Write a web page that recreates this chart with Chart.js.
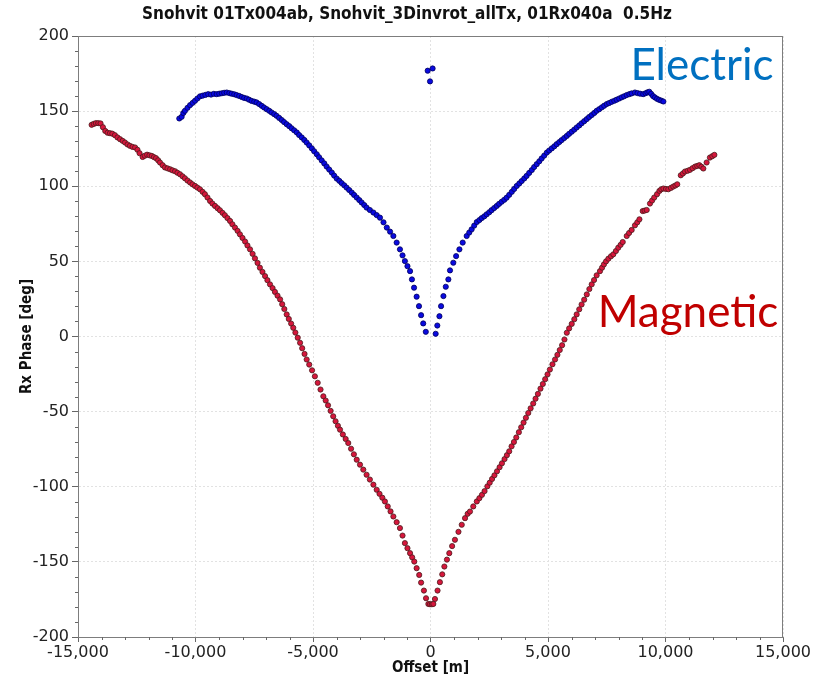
<!DOCTYPE html>
<html>
<head>
<meta charset="utf-8">
<script src="https://cdn.jsdelivr.net/npm/chart.js@4.4.1/dist/chart.umd.min.js"></script>
<style>
  html, body { margin: 0; padding: 0; background: #fff; }
  #wrap { width: 814px; height: 681px; }
</style>
</head>
<body>
<div id="wrap"><canvas id="graph" width="814" height="681"></canvas></div>
<script>
"use strict";

const chart_title = "Snohvit 01Tx004ab, Snohvit_3Dinvrot_allTx, 01Rx040a  0.5Hz";
const x_title = "Offset [m]";
const y_title = "Rx Phase [deg]";
const series_names = ["Electric", "Magnetic"];

// Electric (blue) - offset in m, phase in deg
const electric_offset = [
  -10690, -10590, -10520, -10450, -10340, -10230, -10120, -10020, -9920, -9810,
  -9700, -9580, -9460, -9340, -9220, -9100, -8990, -8880, -8780, -8670,
  -8560, -8460, -8350, -8250, -8140, -8030, -7930, -7820, -7720, -7610,
  -7500, -7400, -7290, -7180, -7080, -6970, -6860, -6760, -6650, -6550,
  -6440, -6330, -6230, -6120, -6010, -5910, -5800, -5690, -5590, -5480,
  -5370, -5270, -5160, -5050, -4950, -4840, -4740, -4630, -4520, -4420,
  -4310, -4200, -4100, -3990, -3880, -3780, -3670, -3570, -3460, -3350,
  -3250, -3140, -3030, -2930, -2820, -2720, -2580, -2430, -2290, -2150,
  -2000, -1860, -1720, -1580, -1440, -1300, -1190, -1090, -980, -870,
  -790, -700, -590, -490, -400, -310, -200,
  -120, -20, 90,
  220, 290, 380, 450, 550, 650, 760, 830, 970, 1090,
  1230, 1370, 1540, 1650, 1750, 1860, 1970, 2080, 2180, 2290,
  2390, 2500, 2600, 2710, 2820, 2920, 3030, 3140, 3240, 3350,
  3460, 3560, 3670, 3780, 3880, 3990, 4090, 4200, 4310, 4410,
  4520, 4630, 4730, 4840, 4950, 5050, 5160, 5270, 5370, 5480,
  5580, 5690, 5800, 5900, 6010, 6120, 6220, 6330, 6430, 6540,
  6650, 6750, 6860, 6970, 7070, 7180, 7290, 7390, 7500, 7600,
  7710, 7820, 7920, 8030, 8140, 8240, 8350, 8460, 8560, 8700,
  8810, 8920, 9050, 9150, 9230, 9310, 9390, 9470, 9550, 9640,
  9730, 9820, 9910
];
const electric_phase = [
  145.1, 146.2, 148.7, 150.2, 152.2, 154.0, 155.5, 156.9, 158.4, 159.8,
  160.3, 160.8, 161.3, 161.0, 161.5, 161.3, 161.6, 161.9, 162.2, 162.4,
  162.0, 161.6, 161.2, 160.7, 160.1, 159.4, 158.8, 158.4, 157.6, 156.8,
  156.3, 155.8, 154.7, 153.5, 152.4, 151.3, 150.2, 149.1, 148.0, 146.9,
  145.5, 144.1, 142.7, 141.3, 140.0, 138.6, 137.2, 135.8, 134.1, 132.5,
  130.8, 129.1, 127.2, 125.2, 123.3, 121.3, 119.3, 117.2, 115.2, 113.1,
  111.1, 109.1, 107.1, 105.1, 103.6, 102.1, 100.6, 99.1, 97.5, 95.8,
  94.2, 92.5, 90.8, 89.2, 87.5, 85.8, 84.2, 82.5, 80.8, 79.1,
  76.0, 72.5, 69.8, 66.9, 62.5, 58.0, 54.0, 50.2, 46.8, 43.5,
  38.0, 32.5, 26.5, 20.2, 14.2, 8.7, 3.1,
  176.9, 169.8, 178.4,
  1.8, 7.3, 13.5, 20.2, 26.9, 33.1, 38.0, 44.0, 49.1, 53.5,
  58.0, 62.5, 66.9, 69.2, 71.3, 73.8, 76.2, 77.5, 78.8, 80.0,
  81.3, 82.7, 84.1, 85.5, 86.9, 88.3, 89.7, 91.0, 92.4, 94.3,
  96.3, 98.2, 100.2, 101.9, 103.5, 105.2, 106.9, 108.9, 110.8, 112.8,
  114.7, 116.6, 118.5, 120.4, 122.4, 123.8, 125.2, 126.6, 128.0, 129.4,
  130.7, 132.1, 133.5, 134.9, 136.3, 137.7, 139.1, 140.5, 141.9, 143.3,
  144.7, 146.1, 147.4, 148.8, 150.2, 151.3, 152.5, 153.6, 154.7, 155.4,
  156.2, 156.9, 157.6, 158.4, 159.2, 159.9, 160.7, 161.3, 161.8, 162.4,
  162.0, 161.6, 161.3, 161.9, 162.5, 162.9, 161.5, 160.0, 159.1, 158.2,
  157.5, 157.0, 156.4
];

// Magnetic (red)
const magnetic_offset = [
  -14420, -14330, -14240, -14140, -14040, -13940, -13840, -13740, -13640, -13540,
  -13430, -13320, -13210, -13100, -13000, -12890, -12790, -12680, -12570, -12470,
  -12380, -12250, -12160, -12060, -11960, -11860, -11770, -11680, -11590, -11510,
  -11400, -11300, -11190, -11080, -10980, -10870, -10770, -10660, -10550, -10450,
  -10340, -10230, -10130, -10020, -9920, -9810, -9700, -9600, -9490, -9380,
  -9280, -9170, -9060, -8960, -8850, -8750, -8640, -8530, -8430, -8320,
  -8210, -8110, -8000, -7890, -7790, -7680, -7570, -7470, -7360, -7260,
  -7150, -7040, -6940, -6830, -6720, -6620, -6510, -6400, -6310, -6220,
  -6120, -6030, -5930, -5840, -5750, -5650, -5550, -5460, -5360, -5270,
  -5160, -5040, -4920, -4800, -4680, -4560, -4460, -4360, -4250, -4140,
  -4040, -3940, -3850, -3730, -3610, -3500, -3380, -3260, -3140, -3000,
  -2860, -2720, -2580, -2430, -2290, -2170, -2050, -1940, -1820, -1700,
  -1580, -1440, -1300, -1190, -1090, -980, -870, -780, -690, -590,
  -480, -400, -280, -190, -90, -20,
  60, 120, 190, 300, 400, 500, 590, 700, 800, 920,
  1040, 1190, 1330, 1470, 1580, 1680, 1820, 1970, 2080, 2190,
  2300, 2420, 2520, 2620, 2720, 2830, 2940, 3040, 3150, 3250,
  3350, 3450, 3550, 3650, 3760, 3860, 3960, 4060, 4160, 4260,
  4370, 4470, 4570, 4680, 4780, 4880, 4980, 5080, 5190, 5300,
  5400, 5500, 5600, 5700, 5800, 5900, 6010, 6120, 6220, 6330,
  6430, 6540, 6650, 6760, 6860, 6960, 7070, 7210, 7300, 7380,
  7470, 7570, 7680, 7780, 7890, 7990, 8090, 8180, 8350, 8450,
  8560, 8700, 8800, 8890, 9030, 9110, 9200, 9340, 9430, 9520,
  9640, 9740, 9820, 9910, 10020, 10120, 10230, 10330, 10420, 10500,
  10650, 10740, 10830, 10940, 11040, 11150, 11260, 11350, 11440, 11530,
  11610, 11750, 11890, 11990, 12080
];
const magnetic_phase = [
  140.9, 141.5, 142.0, 142.0, 141.8, 139.3, 136.8, 135.6, 135.3, 135.0,
  134.0, 132.5, 131.3, 130.2, 129.1, 127.8, 126.9, 126.2, 125.8, 124.3,
  122.0, 119.5, 120.3, 121.0, 120.6, 120.2, 119.4, 118.7, 117.3, 115.8,
  114.0, 112.5, 111.9, 111.3, 110.6, 110.0, 109.0, 108.0, 106.6, 105.3,
  103.8, 102.5, 101.3, 100.2, 99.1, 98.0, 96.3, 94.7, 92.5, 90.2,
  88.5, 86.9, 85.4, 84.0, 82.3, 80.7, 78.8, 76.9, 74.7, 72.5,
  70.3, 68.0, 65.6, 63.2, 60.6, 58.0, 55.0, 52.0, 49.0, 45.8,
  43.0, 40.2, 37.5, 34.7, 32.2, 29.7, 27.2, 24.7, 21.5, 18.3,
  14.7, 11.7, 8.6, 5.8, 2.6, -0.8, -4.2, -7.8, -11.6, -15.3,
  -18.7, -22.5, -26.5, -30.8, -35.3, -39.8, -42.6, -45.8, -49.5, -53.1,
  -56.4, -59.4, -62.0, -65.2, -68.2, -70.9, -74.7, -78.4, -82.0, -85.3,
  -88.6, -92.0, -95.2, -98.6, -102.0, -104.7, -107.3, -109.8, -113.1, -116.4,
  -119.8, -123.6, -127.5, -132.5, -137.5, -140.9, -144.2, -147.0, -149.8, -154.2,
  -158.7, -163.8, -169.1, -174.2, -178.0, -178.2,
  -178.2, -178.0, -174.7, -169.1, -163.5, -158.3, -153.1, -148.5, -144.2, -139.5,
  -135.3, -130.0, -125.3, -120.9, -118.0, -116.5, -113.1, -109.8, -107.6, -105.4,
  -102.9, -99.7, -97.3, -94.8, -92.4, -89.7, -87.0, -84.4, -81.6, -79.0,
  -76.4, -73.1, -70.2, -67.2, -63.7, -60.4, -57.3, -54.1, -50.9, -47.8,
  -44.6, -41.4, -38.2, -34.7, -31.6, -28.4, -25.2, -22.0, -18.5, -15.3,
  -12.2, -9.0, -5.8, -2.0, 2.5, 5.4, 8.4, 11.5, 14.7, 18.1,
  21.3, 24.5, 28.0, 31.6, 34.7, 37.6, 40.7, 43.5, 45.8, 48.0,
  50.0, 51.8, 53.4, 54.7, 56.9, 59.1, 61.0, 62.9, 66.9, 68.9,
  70.9, 74.0, 76.0, 78.0, 83.5, 83.8, 84.2, 88.5, 90.5, 92.5,
  94.7, 96.9, 98.0, 98.5, 98.2, 98.0, 98.9, 99.8, 100.5, 101.3,
  107.3, 108.5, 109.8, 110.3, 110.9, 112.0, 113.1, 113.5, 114.0, 113.0,
  111.8, 115.8, 119.1, 120.0, 120.9
];

const x_min = -15000, x_max = 15000, x_step = 5000, x_minor = 1000;
const y_min = -200, y_max = 200, y_step = 50, y_minor = 10;

function to_points(xs, ys) {
  return xs.map((x, i) => ({ x: x, y: ys[i] }));
}

// Rahmen, Nebenstriche, Titel und Beschriftungen
const overlay = {
  id: "overlay",
  afterDraw(chart) {
    const { ctx, chartArea } = chart;
    const sx = chart.scales.x, sy = chart.scales.y;
    ctx.save();

    ctx.strokeStyle = "#7d7d7d";
    ctx.lineWidth = 1;
    ctx.strokeRect(chartArea.left + 0.5, chartArea.top + 0.5,
      chartArea.right - chartArea.left - 1, chartArea.bottom - chartArea.top);

    ctx.strokeStyle = "#666";
    ctx.beginPath();
    for (let v = y_min; v <= y_max; v += y_minor) {
      if (v % y_step === 0) continue;
      const py = Math.round(sy.getPixelForValue(v)) + 0.5;
      ctx.moveTo(chartArea.left - 3, py);
      ctx.lineTo(chartArea.left, py);
    }
    for (let v = x_min; v <= x_max; v += x_minor) {
      if (v % x_step === 0) continue;
      const px = Math.round(sx.getPixelForValue(v)) + 0.5;
      ctx.moveTo(px, chartArea.bottom);
      ctx.lineTo(px, chartArea.bottom + 3);
    }
    ctx.stroke();

    ctx.fillStyle = "#111";
    ctx.font = 'bold 17px "DejaVu Sans Condensed", "Liberation Sans Narrow", "DejaVu Sans"';
    ctx.textAlign = "center";
    ctx.textBaseline = "middle";
    ctx.fillText(chart_title, chart.width / 2, 15);

    ctx.textBaseline = "alphabetic";
    ctx.font = '44px Lato, "Open Sans", sans-serif';
    ctx.fillStyle = "#0070C0";
    ctx.fillText(series_names[0], 702, 80);
    ctx.fillStyle = "#C00000";
    ctx.fillText(series_names[1], 688, 327);
    ctx.restore();
  },
};

const tick_font = { family: "DejaVu Sans", size: 16 };
const title_font = { family: '"DejaVu Sans Condensed", "Liberation Sans Narrow", "DejaVu Sans"', size: 15, weight: "bold" };

const config = {
  type: "scatter",
  data: {
    datasets: [
      {
        label: series_names[0],
        data: to_points(electric_offset, electric_phase),
        backgroundColor: "#0a0ae0",
        borderColor: "#00005a",
        borderWidth: 0.8,
        pointRadius: 2.6,
      },
      {
        label: series_names[1],
        data: to_points(magnetic_offset, magnetic_phase),
        backgroundColor: "#d6163c",
        borderColor: "#4a1c1c",
        borderWidth: 0.8,
        pointRadius: 2.6,
      },
    ],
  },
  options: {
    responsive: false,
    animation: false,
    events: [],
    layout: { padding: { top: 36, right: 31, bottom: 0, left: 0 } },
    plugins: {
      legend: { display: false },
      tooltip: { enabled: false },
      title: { display: false },
    },
    scales: {
      x: {
        type: "linear",
        min: x_min,
        max: x_max,
        ticks: {
          stepSize: x_step,
          font: tick_font,
          color: "#222",
          padding: 1,
          maxRotation: 0,
          callback: (value) => value.toLocaleString("en-US"),
        },
        grid: { color: "#e2e2e2", tickColor: "#666", tickLength: 5 },
        border: { color: "#7d7d7d", dash: [2, 2] },
        title: { display: true, text: x_title, font: title_font, color: "#111", padding: { top: 0, bottom: 4 } },
        afterFit(scale) {
          scale.height = 44;
          scale.paddingLeft = 0;
          scale.paddingRight = 0;
        },
      },
      y: {
        type: "linear",
        min: y_min,
        max: y_max,
        ticks: { stepSize: y_step, font: tick_font, color: "#222", padding: 3 },
        grid: { color: "#e2e2e2", tickColor: "#666", tickLength: 6 },
        border: { color: "#7d7d7d", dash: [2, 2] },
        title: { display: true, text: y_title, font: title_font, color: "#111", padding: { top: 18, bottom: 0 } },
        afterFit(scale) {
          scale.width = 78;
          scale.paddingTop = 0;
          scale.paddingBottom = 0;
        },
      },
    },
  },
  plugins: [overlay],
};

new Chart(document.getElementById("graph"), config);
</script>
</body>
</html>
